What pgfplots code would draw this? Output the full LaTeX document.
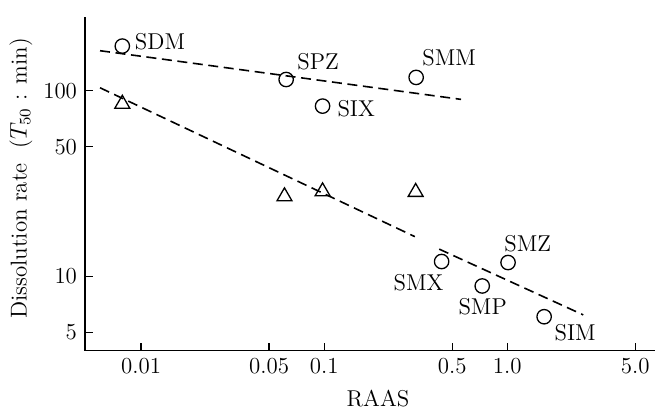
\documentclass[border=0pt]{standalone}
\usepackage{pgfplots}
\pgfplotsset{compat=1.18}
\begin{document}
\fontsize{11.5}{13.8}\selectfont
\begin{tikzpicture}
\useasboundingbox (-42.5bp,-29.25bp) rectangle (286bp,175.25bp);
\begin{axis}[
  scale only axis, width=285bp, height=166.75bp,
  xmode=log, ymode=log,
  xmin=0.00494, xmax=6.41, ymin=4.0, ymax=249.5,
  axis lines=left, axis line style={-, line width=0.7bp},
  xtick={0.01,0.05,0.1,0.5,1,5},
  xticklabels={0.01,0.05,0.1,0.5,1.0,5.0},
  ytick={5,10,50,100}, yticklabels={5,10,50,100},
  minor xtick={}, minor ytick={},
  tick align=inside, major tick length=4bp,
  tick style={line width=0.6bp, black},
  xlabel={RAAS},
  ylabel={Dissolution rate~~($T_{50}$ : min)},
  xlabel style={at={(axis description cs:0.514,-0.1454)}, anchor=center},
  ylabel style={at={(axis description cs:-0.1123,0.516)}, anchor=center},
  clip=false,
]
% upper dashed line
\addplot[black, line width=0.8bp, dash pattern=on 5bp off 2.8bp] coordinates {(0.00597,164.3) (0.559,89.9)};
% lower dashed line (two segments)
\addplot[black, line width=0.8bp, dash pattern=on 5bp off 2.8bp] coordinates {(0.00597,103.8) (0.313,16.4)};
\addplot[black, line width=0.8bp, dash pattern=on 5bp off 2.8bp] coordinates {(0.425,14.05) (2.60,6.22)};
% circles
\addplot[only marks, mark=o, mark size=3.6bp, mark options={line width=0.65bp, black}] coordinates {
  (0.0079,174) (0.062,115) (0.098,82.7) (0.318,118)
  (0.438,12.05) (1.01,11.9) (0.73,8.9) (1.59,6.08)};
% triangles
\addplot[only marks, mark=triangle, mark size=4.3bp, mark options={line width=0.65bp, black}] coordinates {
  (0.0079,85) (0.0607,27.0) (0.098,28.7) (0.316,28.5)};
% labels
\node at (axis cs:0.0127,183) {SDM};
\node at (axis cs:0.0927,144) {SPZ};
\node at (axis cs:0.482,151) {SMM};
\node at (axis cs:0.1496,80.2) {SIX};
\node at (axis cs:0.328,9.30) {SMX};
\node at (axis cs:1.294,15.0) {SMZ};
\node at (axis cs:0.734,6.90) {SMP};
\node at (axis cs:2.35,5.0) {SIM};
\end{axis}
\end{tikzpicture}
\end{document}
